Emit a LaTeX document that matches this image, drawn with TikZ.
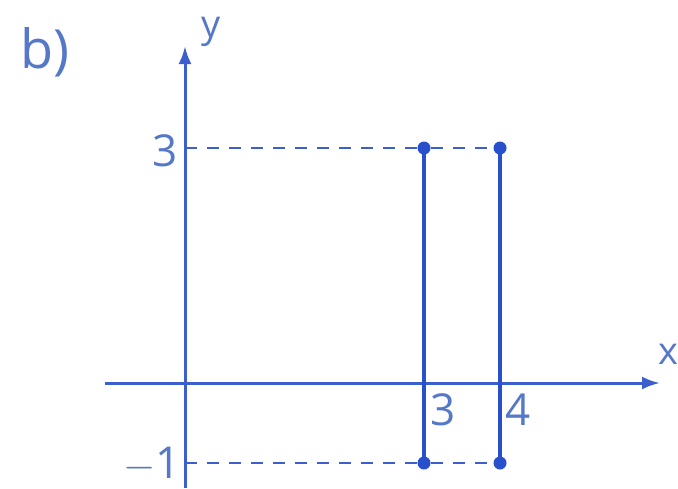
\documentclass[tikz,border=0pt]{standalone}
\usepackage{fontspec}
\setmainfont{Open Sans}
\usetikzlibrary{arrows.meta}
\definecolor{lineblue}{RGB}{40,80,205}
\definecolor{axisblue}{RGB}{60,95,205}
\definecolor{textblue}{RGB}{85,120,200}
\begin{document}
\begin{tikzpicture}[x=0.5pt,y=-0.5pt,
  axis/.style={axisblue,line width=1.5pt,-{Latex[length=9pt,width=6.5pt]}},
  seg/.style={lineblue,line width=2.4pt},
  guide/.style={axisblue,line width=1.4pt,dash pattern=on 6pt off 5pt},
  dot/.style={circle,fill=lineblue,inner sep=0pt,minimum size=6.5pt},
  lbl/.style={textblue,font=\fontsize{22}{26}\selectfont,inner sep=0pt}]
\useasboundingbox[fill=white] (0,0) rectangle (678,488);
% axes
\coordinate (xs) at (105,383);
\coordinate (xe) at (660,383);
\coordinate (ys) at (185,488);
\coordinate (ye) at (185,46);
\draw[axis] (xs) -- (xe);
\draw[axis] (ys) -- (ye);
% guide start points on y-axis
\coordinate (y3) at (185,148);
\coordinate (ym1) at (185,463);
% endpoints
\node[dot] (A) at (424,148) {};
\node[dot] (B) at (424,463) {};
\node[dot] (C) at (500,148) {};
\node[dot] (D) at (500,463) {};
\draw[guide] (y3) -- (A) -- (C);
\draw[guide] (ym1) -- (B) -- (D);
\draw[seg] (A.center) -- (B.center);
\draw[seg] (C.center) -- (D.center);
% labels
\node[lbl] (b) at (45,52) {\fontsize{27}{30}\selectfont b)};
\node[lbl,font=\fontsize{19}{22}\selectfont] (ylab) at (211,32) {y};
\node[lbl,font=\fontsize{19}{22}\selectfont] (xlab) at (668,354) {x};
\node[lbl] (l3y) at (165,151) {3};
\node[lbl] (lm1) at (152,465) {$-$1};
\node[lbl] (l3x) at (443,410) {3};
\node[lbl] (l4x) at (518,410) {4};
\end{tikzpicture}
\end{document}
